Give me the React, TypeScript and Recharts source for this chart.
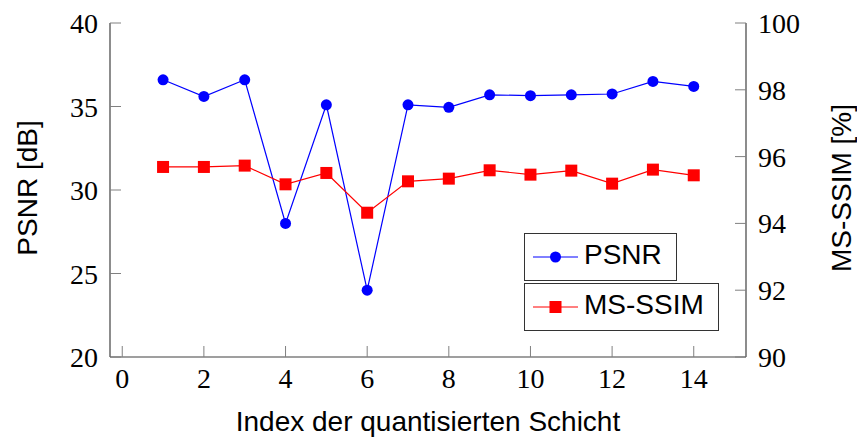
import React from 'react';
import { LineChart, Line, XAxis, YAxis, Legend, Label } from 'recharts';

// Index of the quantised layer
const layerIndex = [1, 2, 3, 4, 5, 6, 7, 8, 9, 10, 11, 12, 13, 14];
// PSNR in dB (left axis)
const psnrDb = [36.6, 35.6, 36.6, 28.0, 35.1, 24.0, 35.1, 34.95, 35.7, 35.65, 35.7, 35.75, 36.5, 36.2];
// MS-SSIM in percent (right axis)
const msSsimPct = [95.69, 95.69, 95.73, 95.17, 95.51, 94.32, 95.26, 95.34, 95.59, 95.46, 95.58, 95.19, 95.61, 95.44];

const xTicks = [0, 2, 4, 6, 8, 10, 12, 14];
const psnrTicks = [20, 25, 30, 35, 40];
const ssimTicks = [90, 92, 94, 96, 98, 100];
const seriesOrder = ['psnr', 'msssim'];

const rows = layerIndex.map((x, i) => ({ x, psnr: psnrDb[i], msssim: msSsimPct[i] }));

const SERIF = "'Liberation Serif', 'DejaVu Serif', serif";
const SANS = "'Liberation Sans', Arial, sans-serif";
const AXIS = '#404040';
const TICK = '#808080';
const BLUE = '#0000ff';
const RED = '#ff0000';

const tickTextStyle: React.CSSProperties = { fontFamily: SERIF, fontSize: 28 };

const XTick = (props: any) => {
  const { x, y, payload } = props;
  return (
    <g>
      <line x1={x} x2={x} y1={y} y2={y - 11} stroke={TICK} strokeWidth={1} />
      <text x={x} y={y + 31} textAnchor="middle" style={tickTextStyle} fill="#000">
        {payload.value}
      </text>
    </g>
  );
};

const LeftTick = (props: any) => {
  const { x, y, payload } = props;
  return (
    <g>
      <line x1={x} x2={x + 11} y1={y} y2={y} stroke={TICK} strokeWidth={1} />
      <text x={x - 12} y={y + 10} textAnchor="end" style={tickTextStyle} fill="#000">
        {payload.value}
      </text>
    </g>
  );
};

const RightTick = (props: any) => {
  const { x, y, payload } = props;
  return (
    <g>
      <line x1={x} x2={x - 11} y1={y} y2={y} stroke={TICK} strokeWidth={1} />
      <text x={x + 12} y={y + 10} textAnchor="start" style={tickTextStyle} fill="#000">
        {payload.value}
      </text>
    </g>
  );
};

const SquareDot = (props: any) => {
  const { cx, cy, index } = props;
  return <rect key={`sq-${index}`} x={cx - 6} y={cy - 6} width={12} height={12} fill={RED} />;
};

const titleStyle: React.CSSProperties = { fontFamily: SANS, fontSize: 28 };

const xTitle = (props: any) => {
  const vb = props.viewBox;
  return (
    <text x={vb.x + vb.width / 2} y={vb.y + 74} textAnchor="middle" style={titleStyle} fill="#000">
      Index der quantisierten Schicht
    </text>
  );
};

const leftTitle = (props: any) => {
  const vb = props.viewBox;
  const cx = vb.x + 37;
  const cy = vb.y + vb.height / 2 - 2;
  return (
    <text x={cx} y={cy} transform={`rotate(-90, ${cx}, ${cy})`} textAnchor="middle" style={titleStyle} fill="#000">
      PSNR [dB]
    </text>
  );
};

const rightTitle = (props: any) => {
  const vb = props.viewBox;
  const cx = vb.x + 105;
  const cy = vb.y + vb.height / 2 - 2;
  return (
    <text x={cx} y={cy} transform={`rotate(-90, ${cx}, ${cy})`} textAnchor="middle" style={titleStyle} fill="#000">
      MS-SSIM [%]
    </text>
  );
};

const LegendBoxes = (props: any) => {
  const payload = [...(props.payload || [])].sort(
    (a: any, b: any) => seriesOrder.indexOf(a.dataKey) - seriesOrder.indexOf(b.dataKey)
  );
  return (
    <div style={{ display: 'flex', flexDirection: 'column', alignItems: 'flex-start', gap: 1.6 }}>
      {payload.map((entry: any) => (
        <div
          key={entry.value}
          style={{
            display: 'flex',
            alignItems: 'center',
            height: 48,
            boxSizing: 'border-box',
            border: '1px solid #333',
            background: '#fff',
            padding: '0 14px 0 8px',
          }}
        >
          <svg width={45} height={14} style={{ display: 'block' }}>
            <line x1={0} x2={45} y1={7} y2={7} stroke={entry.color} strokeWidth={1} />
            {entry.dataKey === 'msssim' ? (
              <rect x={16.5} y={1} width={12} height={12} fill={entry.color} />
            ) : (
              <circle cx={22.5} cy={7} r={5.5} fill={entry.color} />
            )}
          </svg>
          <span
            style={{
              marginLeft: 6,
              fontFamily: SANS,
              fontSize: 28,
              lineHeight: '28px',
              color: '#000',
              position: 'relative',
              top: -2,
            }}
          >
            {entry.value}
          </span>
        </div>
      ))}
    </div>
  );
};

export default function App() {
  return (
    <div style={{ position: 'absolute', left: 0, top: 0, background: '#fff' }}>
      <LineChart width={857} height={439} data={rows} margin={{ top: 23, right: 0, bottom: 0, left: 0 }}>
        <XAxis
          dataKey="x"
          type="number"
          domain={[-0.3, 15.28]}
          ticks={xTicks}
          allowDataOverflow
          height={82}
          tickSize={0}
          tickMargin={0}
          tickLine={false}
          tick={<XTick />}
          axisLine={{ stroke: AXIS, strokeWidth: 1.2 }}
        >
          <Label content={xTitle} />
        </XAxis>
        <YAxis
          yAxisId="left"
          domain={[20, 40]}
          ticks={psnrTicks}
          width={110}
          tickSize={0}
          tickMargin={0}
          tickLine={false}
          tick={<LeftTick />}
          axisLine={{ stroke: AXIS, strokeWidth: 1.2 }}
        >
          <Label content={leftTitle} />
        </YAxis>
        <YAxis
          yAxisId="right"
          orientation="right"
          domain={[90, 100]}
          ticks={ssimTicks}
          width={111}
          tickSize={0}
          tickMargin={0}
          tickLine={false}
          tick={<RightTick />}
          axisLine={{ stroke: AXIS, strokeWidth: 1.2 }}
        >
          <Label content={rightTitle} />
        </YAxis>
        <Legend
          layout="vertical"
          verticalAlign="middle"
          align="center"
          content={<LegendBoxes />}
          wrapperStyle={{ left: 524, top: 233, width: 'auto', height: 'auto' }}
        />
        <Line
          yAxisId="left"
          dataKey="psnr"
          name="PSNR"
          stroke={BLUE}
          strokeWidth={1.2}
          dot={{ r: 5.5, fill: BLUE, stroke: 'none' }}
          activeDot={false}
          isAnimationActive={false}
        />
        <Line
          yAxisId="right"
          dataKey="msssim"
          name="MS-SSIM"
          stroke={RED}
          strokeWidth={1.2}
          dot={SquareDot}
          activeDot={false}
          isAnimationActive={false}
        />
      </LineChart>
    </div>
  );
}
